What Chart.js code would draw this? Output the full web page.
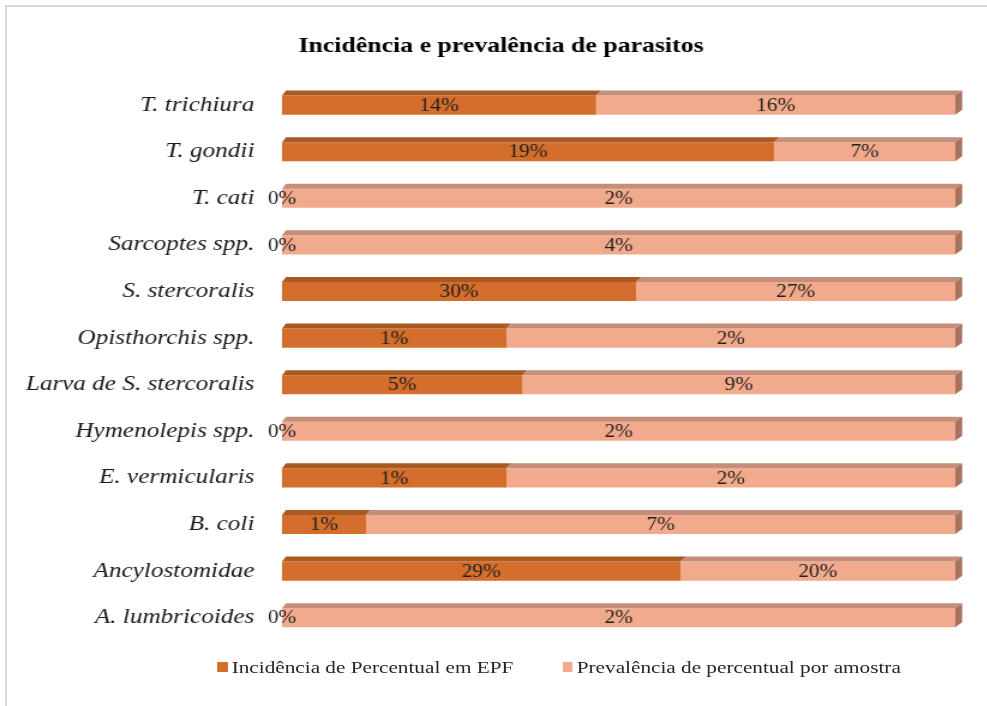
<!DOCTYPE html>
<html><head><meta charset="utf-8">
<script src="https://cdn.jsdelivr.net/npm/chart.js@4.4.1/dist/chart.umd.min.js"></script>
<style>
html,body{margin:0;padding:0;background:#fff;overflow:hidden;}
#wrap{position:relative;width:987px;height:706px;overflow:hidden;}
#frame{position:absolute;left:5px;top:5px;width:1100px;height:800px;border:2px solid #d9d9d9;box-sizing:border-box;}
#stage{position:absolute;left:0;top:0;width:823px;height:706px;transform:scaleX(1.2);transform-origin:0 0;}
#c{position:absolute;left:0;top:0;}
#legend{position:absolute;top:656px;left:0;width:932px;display:flex;justify-content:center;gap:41px;font-family:"Liberation Serif","Times New Roman",serif;font-size:17.7px;color:#262626;line-height:22px;}
#legend .it{display:flex;align-items:center;white-space:nowrap;}
#legend .sw{width:8.4px;height:10px;margin-right:3.4px;display:inline-block;}
</style>
</head><body>
<div id="wrap">
<div id="frame"></div>
<div id="stage">
<canvas id="c" width="823" height="706"></canvas>
<div id="legend"></div>
</div>
</div>
<script>
const categories = ["T. trichiura","T. gondii","T. cati","Sarcoptes spp.","S. stercoralis","Opisthorchis spp.","Larva de S. stercoralis","Hymenolepis spp.","E. vermicularis","B. coli","Ancylostomidae","A. lumbricoides"];
const incidence = [14,19,0,0,30,1,5,0,1,1,29,0];
const prevalence = [16,7,2,4,27,2,9,2,2,7,20,2];
const seriesNames = ["Incidência de Percentual em EPF","Prevalência de percentual por amostra"];
const chartTitle = "Incidência e prevalência de parasitos";

const frontColors = ["#D36E2C","#F2AA8C"];
const topColors = ["#A95A23","#C58E7B"];
const sideColor = "#A7735F";
const serif = '"Liberation Serif","Times New Roman",serif';

const rawValues = [incidence, prevalence];
const incShare = incidence.map((v,i)=> v/(v+prevalence[i])*100);
const prevShare = prevalence.map((v,i)=> v/(incidence[i]+v)*100);

const bar3d = {
  id:'bar3d',
  afterDatasetsDraw(chart){
    const ctx = chart.ctx;
    const area = chart.chartArea;
    const L = area.left, R = area.right;
    const dxAt = x => 3.3 + 2.5*(x-L)/(R-L);
    const dy = 5;
    ctx.save();
    [0,1].forEach(di => {
      const meta = chart.getDatasetMeta(di);
      meta.data.forEach((el) => {
        const p = el.getProps(['x','y','base','height'], true);
        const x0 = Math.min(p.x, p.base), x1 = Math.max(p.x, p.base);
        const top = p.y - p.height/2, bot = p.y + p.height/2;
        if (x1 - x0 < 0.5) return;
        ctx.fillStyle = topColors[di];
        ctx.beginPath();
        ctx.moveTo(x0, top);
        ctx.lineTo(x0+dxAt(x0), top-dy);
        ctx.lineTo(x1+dxAt(x1), top-dy);
        ctx.lineTo(x1, top);
        ctx.closePath(); ctx.fill();
        if (di === 1) {
          ctx.fillStyle = sideColor;
          ctx.beginPath();
          ctx.moveTo(x1, top);
          ctx.lineTo(x1+dxAt(x1), top-dy);
          ctx.lineTo(x1+dxAt(x1), bot-dy);
          ctx.lineTo(x1, bot);
          ctx.closePath(); ctx.fill();
        }
      });
    });
    ctx.font = '17.8px ' + serif;
    ctx.fillStyle = '#1f1f1f';
    ctx.textAlign = 'center';
    ctx.textBaseline = 'middle';
    [0,1].forEach(di => {
      const meta = chart.getDatasetMeta(di);
      meta.data.forEach((el, i) => {
        const p = el.getProps(['x','y','base'], true);
        ctx.fillText(rawValues[di][i] + '%', (p.x + p.base)/2, p.y + 1);
      });
    });
    ctx.restore();
  }
};

const chart = new Chart(document.getElementById('c'), {
  type:'bar',
  data:{
    labels: categories,
    datasets:[
      {label: seriesNames[0], data: incShare, backgroundColor: frontColors[0], borderWidth:0, categoryPercentage:1, barPercentage:0.41},
      {label: seriesNames[1], data: prevShare, backgroundColor: frontColors[1], borderWidth:0, categoryPercentage:1, barPercentage:0.41}
    ]
  },
  options:{
    indexAxis:'y',
    responsive:false,
    animation:false,
    layout:{padding:{left:39,right:27,top:0,bottom:65}},
    scales:{
      x:{stacked:true, min:0, max:100, display:false},
      y:{stacked:true,
         grid:{display:false, drawTicks:false},
         border:{display:false},
         ticks:{padding:23, color:'#1a1a1a', font:{family:serif, size:21, style:'italic'}},
         afterFit(scale){
           scale.width = 196;
           scale._computeLabelArea = function(){ return undefined; };
         }
      }
    },
    plugins:{
      legend:{display:false},
      tooltip:{enabled:false},
      title:{display:true, text: chartTitle, color:'#000', font:{family:serif, size:21.5, weight:'bold', lineHeight:1.2}, padding:{top:34, bottom:22}}
    }
  },
  plugins:[bar3d]
});

const lg = document.getElementById('legend');
seriesNames.forEach((n,i)=>{
  const it = document.createElement('div'); it.className='it';
  const sw = document.createElement('span'); sw.className='sw'; sw.style.background = frontColors[i];
  const tx = document.createElement('span'); tx.textContent = n;
  it.appendChild(sw); it.appendChild(tx); lg.appendChild(it);
});
</script>
</body></html>
